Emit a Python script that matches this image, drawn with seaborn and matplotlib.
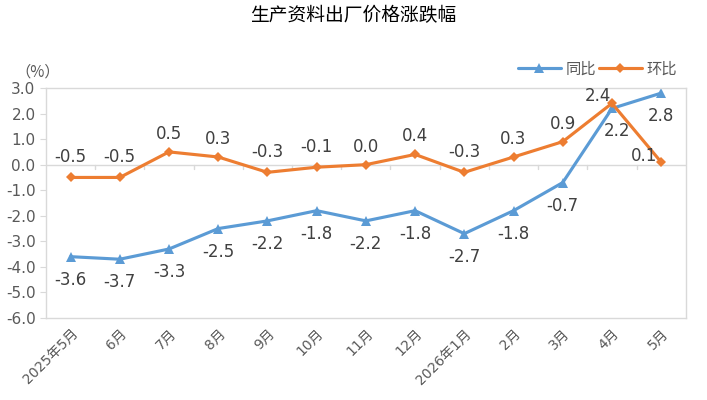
import pandas as pd
import numpy as np
import matplotlib

matplotlib.use("Agg")
import matplotlib.pyplot as plt
import seaborn as sns

# ===================== 数据 =====================
months = ["2025年5月", "6月", "7月", "8月", "9月", "10月", "11月", "12月",
          "2026年1月", "2月", "3月", "4月", "5月"]
yoy = [-3.6, -3.7, -3.3, -2.5, -2.2, -1.8, -2.2, -1.8, -2.7, -1.8, -0.7, 2.2, 2.8]
mom = [-0.5, -0.5, 0.5, 0.3, -0.3, -0.1, 0.0, 0.4, -0.3, 0.3, 0.9, 2.4, 0.1]
series_names = ["同比", "环比"]
yticks = np.arange(-6.0, 3.01, 1.0)

df = pd.DataFrame({
    "x": list(range(len(months))) * 2,
    "value": yoy + mom,
    "series": [series_names[0]] * len(months) + [series_names[1]] * len(months),
})

# ===================== 样式 =====================
sns.set_style("white")
plt.rcParams["font.family"] = ["DejaVu Sans", "Noto Sans CJK SC"]

blue = "#5B9BD5"
orange = "#ED7D31"
grey_txt = "#595959"
frame = "#D9D9D9"

fig = plt.figure(figsize=(7.07, 4.0), dpi=100)
ax = fig.add_axes([0.065, 0.205, 0.905, 0.575])

sns.lineplot(data=df, x="x", y="value", hue="series", style="series",
             palette={"同比": blue, "环比": orange},
             markers={"同比": "^", "环比": "D"}, dashes=False,
             linewidth=2.25, markersize=7, markeredgewidth=0, ax=ax)

# 菱形标记小一些
for ln in ax.lines:
    if ln.get_marker() == "D":
        ln.set_markersize(5)

ax.set_xlim(-0.5, len(months) - 0.5)
ax.set_ylim(-6.0, 3.0)
ax.set_yticks(yticks)
ax.set_yticklabels([f"{v:.1f}" for v in yticks], fontsize=11, color=grey_txt)
ax.set_xticks(range(len(months)))
ax.set_xticklabels(months, rotation=45, ha="right", rotation_mode="anchor",
                   fontsize=10, color=grey_txt)
ax.set_xlabel("")
ax.set_ylabel("")

for s in ax.spines.values():
    s.set_color(frame)
    s.set_linewidth(1.0)
ax.tick_params(axis="y", length=4, color=frame, left=True)
ax.tick_params(axis="x", length=0, pad=6)

# 零线 + 分类刻度
ax.axhline(0, color=frame, linewidth=1.0, zorder=0)
for i in range(len(months) - 1):
    ax.plot([i + 0.5, i + 0.5], [0, -0.15], color=frame, linewidth=1.0, zorder=0)

# ===================== 数据标签 =====================
lab_kw = dict(fontsize=12, color="#404040", ha="center", va="center",
              textcoords="offset pixels")
n = len(months)
for i, v in enumerate(yoy):
    dx, dy = 0, -23
    if i == n - 2:
        dx = 5
    ax.annotate(f"{v:.1f}", (i, v), xytext=(dx, dy), **lab_kw)
for i, v in enumerate(mom):
    dx, dy = 0, 18
    if v < 0:
        dy = 20
    if i == n - 2:
        dx, dy = -14, 7
    elif i == n - 1:
        dx, dy = -17, 6
    ax.annotate(f"{v:.1f}", (i, v), xytext=(dx, dy), **lab_kw)

# ===================== 标题/单位/图例 =====================
fig.text(0.5, 0.962, "生产资料出厂价格涨跌幅", ha="center", va="center",
         fontsize=13.5, color="black")
fig.text(0.022, 0.82, "（%）", ha="left", va="center", fontsize=11, color=grey_txt,
         family=["Noto Sans CJK SC", "DejaVu Sans"])

leg = ax.legend(loc="lower right", bbox_to_anchor=(1.0, 1.01), ncol=2, frameon=False,
                fontsize=11, labelcolor=grey_txt, handlelength=2.8, columnspacing=0.2,
                handletextpad=0.3, borderaxespad=0.2)
for h in leg.legend_handles:
    if h.get_marker() == "D":
        h.set_markersize(5)

fig.savefig("out.png", dpi=100)
plt.close(fig)
